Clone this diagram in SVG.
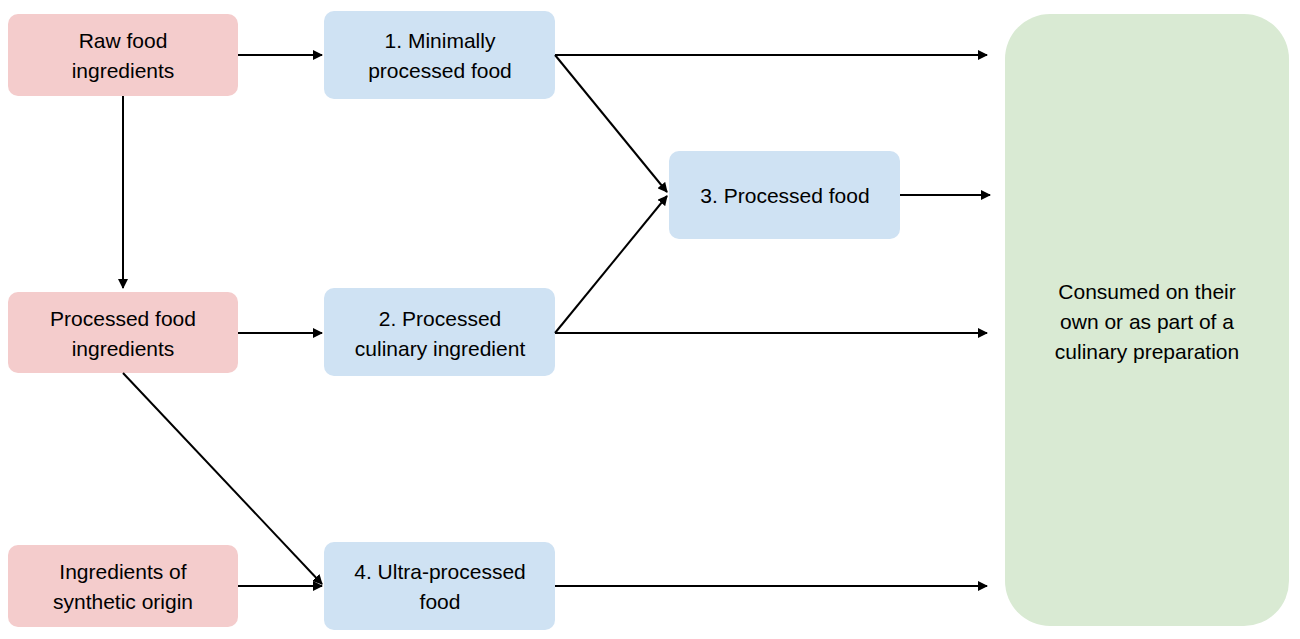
<svg xmlns="http://www.w3.org/2000/svg" width="1300" height="639" viewBox="0 0 1300 639">
<style>
.r{fill:#f4cccc}.b{fill:#cfe2f3}.g{fill:#d9ead3}
text{font-family:"Liberation Sans",Arial,sans-serif;font-size:21px;fill:#000;text-anchor:middle}
.c line{stroke:#000;stroke-width:2;marker-end:url(#a)}
</style>
<defs><marker id="a" markerWidth="10" markerHeight="10" refX="9" refY="5" orient="auto" markerUnits="userSpaceOnUse"><path d="M0,0L10,5L0,10z" fill="#000"/></marker></defs>
<rect width="1300" height="639" fill="#fff"/>
<g id="raw"><rect class="r" x="8" y="14" width="230" height="82" rx="10"/><text x="123" y="48">Raw food</text><text x="123" y="78">ingredients</text></g>
<g id="pfi"><rect class="r" x="8" y="292" width="230" height="81" rx="10"/><text x="123" y="326">Processed food</text><text x="123" y="356">ingredients</text></g>
<g id="syn"><rect class="r" x="8" y="545" width="230" height="82" rx="10"/><text x="123" y="579">Ingredients of</text><text x="123" y="609">synthetic origin</text></g>
<g id="n1"><rect class="b" x="324" y="11" width="231" height="88" rx="10"/><text x="440" y="48">1. Minimally</text><text x="440" y="78">processed food</text></g>
<g id="n2"><rect class="b" x="324" y="288" width="231" height="88" rx="10"/><text x="440" y="326">2. Processed</text><text x="440" y="356">culinary ingredient</text></g>
<g id="n4"><rect class="b" x="324" y="542" width="231" height="88" rx="10"/><text x="440" y="579">4. Ultra-processed</text><text x="440" y="609">food</text></g>
<g id="n3"><rect class="b" x="669" y="151" width="231" height="88" rx="10"/><text x="785" y="203">3. Processed food</text></g>
<g id="cons"><rect class="g" x="1005" y="14" width="284" height="612" rx="45"/><text x="1147" y="299">Consumed on their</text><text x="1147" y="329">own or as part of a</text><text x="1147" y="359">culinary preparation</text></g>
<g class="c">
<line x1="238" y1="55" x2="322" y2="55"/>
<line x1="123" y1="96" x2="123" y2="288"/>
<line x1="238" y1="333" x2="322" y2="333"/>
<line x1="123" y1="373" x2="322" y2="584"/>
<line x1="238" y1="586" x2="322" y2="586"/>
<line x1="555" y1="55" x2="987" y2="55"/>
<line x1="555" y1="55" x2="667" y2="192"/>
<line x1="555" y1="333" x2="667" y2="196"/>
<line x1="555" y1="333" x2="987" y2="333"/>
<line x1="900" y1="195" x2="990" y2="195"/>
<line x1="555" y1="586" x2="987" y2="586"/>
</g>
</svg>
